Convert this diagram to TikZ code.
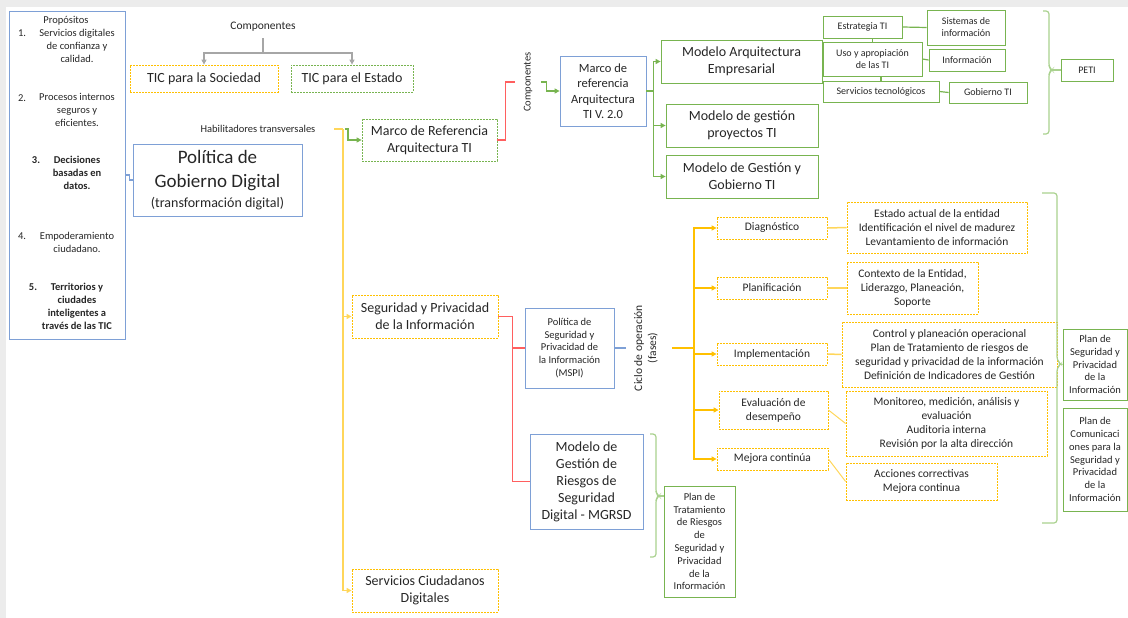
\documentclass[tikz,border=0pt]{standalone}
\usepackage{fontspec}
\setmainfont{Carlito}
\usepackage{tikz}
\usetikzlibrary{arrows.meta,positioning,calc}
\definecolor{blubox}{RGB}{126,160,214}
\definecolor{yelbox}{RGB}{255,192,0}
\definecolor{yelline}{RGB}{255,214,90}
\definecolor{grnbox}{RGB}{120,180,80}
\definecolor{grnbrc}{RGB}{169,209,142}
\definecolor{redline}{RGB}{255,95,95}
\definecolor{gryline}{RGB}{166,166,166}
\definecolor{scrgray}{RGB}{236,236,236}
\newcommand{\fsXL}{\fontsize{19}{24}\selectfont}
\newcommand{\fsL}{\fontsize{14}{17}\selectfont}
\newcommand{\fsM}{\fontsize{12.5}{15.5}\selectfont}
\newcommand{\fsS}{\fontsize{11.5}{14}\selectfont}
\newcommand{\fsXS}{\fontsize{10.5}{12.8}\selectfont}
\newcommand{\fsT}{\fontsize{10}{12}\selectfont}

\begin{document}
\begin{tikzpicture}[x=1pt,y=-1pt,>={Triangle[length=5pt,width=5pt]},
  every node/.style={text=black!85},
  box/.style={draw,line width=0.8pt,inner sep=0pt,align=center},
  bl/.style={box,draw=blubox},
  yl/.style={box,draw=yelbox,dash pattern=on 2pt off 1pt},
  gr/.style={box,draw=grnbox},
  grd/.style={box,draw=grnbox,dash pattern=on 2pt off 1pt},
  gyl/.style={draw=gryline,line width=1.2pt},
  yll/.style={draw=yelline,line width=1.5pt},
  ylp/.style={draw=yelbox,line width=1.5pt},
  grl/.style={draw=grnbox,line width=1.2pt},
  rdl/.style={draw=redline,line width=1.2pt},
  bll/.style={draw=blubox,line width=1.2pt},
  brc/.style={draw=grnbrc,line width=1.2pt,rounded corners=3pt}]
  \useasboundingbox (0,0) rectangle (1128,618);
  % screen edges
  \fill[scrgray] (0,0) rectangle (1128,7);
  \fill[scrgray] (0,0) rectangle (6,618);

  % --- propositos ---
  \node[bl,minimum width=116pt,minimum height=328pt] (prop) at (67,175) {};
  \node[font=\fsXS] (pp) at (66,21) {Propósitos};
  \node[font=\fsXS] (n1) at (22,33) {1.};
  \node[font=\fsXS,align=center] (t1) at (77,46) {Servicios digitales\\de confianza y\\calidad.};
  \node[font=\fsXS] (n2) at (22,98) {2.};
  \node[font=\fsXS,align=center] (t2) at (77,110) {Procesos internos\\seguros y\\eficientes.};
  \node[font=\fsXS\bfseries] (n3) at (36,160) {3.};
  \node[font=\fsXS\bfseries,align=center] (t3) at (77,173) {Decisiones\\basadas en\\datos.};
  \node[font=\fsXS] (n4) at (22,236) {4.};
  \node[font=\fsXS,align=center] (t4) at (77,242.5) {Empoderamiento\\ciudadano.};
  \node[font=\fsXS\bfseries] (n5) at (33,287) {5.};
  \node[font=\fsXS\bfseries,align=center] (t5) at (77,306.5) {Territorios y\\ciudades\\inteligentes a\\través de las TIC};

  % --- politica ---
  \node[bl,minimum width=169pt,minimum height=72pt,font=\fsXL] (pol) at (217.5,180) {Política de\\Gobierno Digital\\[-4pt]{\fsL (transformación digital)}};
  \draw[bll] (prop.east) -- ++(4,0) |- (pol.west);

  % --- componentes TIC ---
  \node[font=\fsS] (comp) at (263,27) {Componentes};
  \coordinate (cj) at (263,53);
  \node[yl,minimum width=148pt,minimum height=27pt,font=\fsL] (ticsoc) at (204,78.5) {TIC para la Sociedad};
  \node[grd,minimum width=122pt,minimum height=27pt,font=\fsL] (ticest) at (352,78.5) {TIC para el Estado};
  \draw[gyl] (comp.south) ++(0,3) -- (cj);
  \draw[gyl,->] (cj) -| (ticsoc.north);
  \draw[gyl,->] (cj) -| (ticest.north);

  % --- habilitadores ---
  \node[font=\fsXS] (hab) at (258,129) {Habilitadores transversales};
  \coordinate (yst) at (334,129);
  \coordinate (yj) at (343,129);
  \node[grd,minimum width=135pt,minimum height=42pt,font=\fsL] (mrat) at (429.5,140) {Marco de Referencia\\Arquitectura TI};
  \node[yl,minimum width=146pt,minimum height=43pt,font=\fsL] (segpriv) at (425,316.5) {Seguridad y Privacidad\\de la Información};
  \node[yl,minimum width=146pt,minimum height=43pt,font=\fsL] (servciu) at (425,590.5) {Servicios Ciudadanos\\Digitales};
  \draw[yll] (yst) -- (yj);
  \draw[yll,->] (yj) |- (segpriv.west);
  \draw[yll,->] (yj) |- (servciu.west);
  \draw[grl,->] (yj) ++(2,0) -- ++(3,0) |- (mrat.west);

  % --- arquitectura TI ---
  \node[rotate=90,font=\fsXS,inner sep=9pt] (comp2) at (528,82) {Componentes};
  \node[bl,minimum width=86pt,minimum height=70pt,font=\fsM] (mr20) at (603,91) {Marco de\\referencia\\Arquitectura\\TI V. 2.0};
  \draw[rdl] (mrat.east) -- ++(8,0) |- (comp2.north);
  \draw[grl,->] (comp2.south) -- ++(5,0) |- (mr20.west);
  \node[gr,minimum width=161pt,minimum height=43pt,font=\fsL] (mae) at (741.5,61.5) {Modelo Arquitectura\\Empresarial};
  \node[gr,minimum width=152pt,minimum height=43pt,font=\fsL] (mgp) at (742,125.5) {Modelo de gestión\\proyectos TI};
  \node[gr,minimum width=152pt,minimum height=43pt,font=\fsL] (mggt) at (742,176.5) {Modelo de Gestión y\\Gobierno TI};
  \draw[grl,->] (mr20.east) -- ++(7,0) coordinate (vj) |- (mae.west);
  \draw[grl,->] (vj) |- (mgp.west);
  \draw[grl,->] (vj) |- (mggt.west);

  % dominios
  \node[gr,minimum width=79pt,minimum height=22pt,font=\fsT] (estr) at (862.5,27) {Estrategia TI};
  \node[gr,minimum width=99pt,minimum height=34pt,font=\fsT] (uso) at (872.5,59) {Uso y apropiación\\de las TI};
  \node[gr,minimum width=116pt,minimum height=21pt,font=\fsT] (serv) at (881,91.5) {Servicios tecnológicos};
  \node[gr,minimum width=78pt,minimum height=35pt,font=\fsT] (sist) at (966,27.5) {Sistemas de\\información};
  \node[gr,minimum width=76pt,minimum height=22pt,font=\fsT] (info) at (967,60) {Información};
  \node[gr,minimum width=78pt,minimum height=21pt,font=\fsT] (gob) at (988,92.5) {Gobierno TI};
  \draw[grl] (mae.east) -- (uso.west |- mae.east);
  \draw[grl] (uso.north) -- (uso.north |- estr.south);
  \draw[grl] (serv.north) -- (serv.north |- uso.south);
  \draw[grl] (estr.east) -- (sist.west);
  \draw[grl] (uso.east) -- (info.west);
  \draw[grl] (serv.east) -- (gob.west);

  % PETI
  \node[gr,minimum width=52pt,minimum height=22pt,font=\fsT] (peti) at (1087,70) {PETI};
  \draw[brc] (1043,11) -- (1049,11) -- (1049,67) -- (1052,70) -- (1049,73) -- (1049,134) -- (1043,134);
  \coordinate (bt1) at (1052,70);
  \draw[brc] (bt1) -- (peti.west);

  % --- seguridad y privacidad ---
  \node[bl,minimum width=89pt,minimum height=80pt,font=\fsXS] (mspi) at (569.5,348) {Política de\\Seguridad y\\Privacidad de\\la Información\\(MSPI)};
  \node[bl,minimum width=113pt,minimum height=95pt,font=\fsL] (mgrsd) at (586.5,481.5) {Modelo de\\Gestión de\\Riesgos de\\Seguridad\\Digital - MGRSD};
  \draw[rdl] (segpriv.east) -- ++(14,0) coordinate (rj) |- (mspi.west);
  \draw[rdl] (rj) |- (mgrsd.west);
  \draw[bll] (mspi.east) -- ++(12,0) coordinate (bend);

  % ciclo de operacion
  \node[rotate=90,font=\fsS,align=center] (ciclo) at (646,348) {Ciclo de operación\\(fases)};
  \coordinate (ys) at (672,348);
  \coordinate (pj) at (694,348);
  \node[yl,minimum width=110pt,minimum height=22pt,font=\fsS] (diag) at (772,228) {Diagnóstico};
  \node[yl,minimum width=110pt,minimum height=22pt,font=\fsS] (plan) at (772,288) {Planificación};
  \node[yl,minimum width=110pt,minimum height=22pt,font=\fsS] (impl) at (772,354) {Implementación};
  \node[yl,minimum width=109pt,minimum height=38pt,font=\fsS] (eval) at (773.5,410) {Evaluación de\\desempeño};
  \node[yl,minimum width=111pt,minimum height=22pt,font=\fsS] (mej) at (772.5,459) {Mejora continúa};
  \draw[ylp] (ys) -- (pj);
  \foreach \f in {diag,plan,impl,eval,mej}
    \draw[ylp,->] (pj) |- (\f.west);

  % detalle de fases
  \node[yl,minimum width=180pt,minimum height=51pt,font=\fsS] (d1) at (937,227.5) {Estado actual de la entidad\\Identificación el nivel de madurez\\Levantamiento de información};
  \node[yl,minimum width=131pt,minimum height=52pt,font=\fsS] (d2) at (912.5,288) {Contexto de la Entidad,\\Liderazgo, Planeación,\\Soporte};
  \node[yl,minimum width=215pt,minimum height=65pt,font=\fsS] (d3) at (949.5,354.5) {Control y planeación operacional\\Plan de Tratamiento de riesgos de\\seguridad y privacidad de la información\\Definición de Indicadores de Gestión};
  \node[yl,minimum width=201pt,minimum height=65pt,font=\fsS] (d4) at (946.5,423.5) {Monitoreo, medición, análisis y\\evaluación\\Auditoria interna\\Revisión por la alta dirección};
  \node[yl,minimum width=151pt,minimum height=37pt,font=\fsS] (d5) at (921.5,481.5) {Acciones correctivas\\Mejora continua};
  \draw[yll] (diag.east) -- (d1.west);
  \draw[yll] (plan.east) -- (d2.west);
  \draw[yll] (impl.east) -- (d3.west);
  \draw[yll,line width=1pt] (eval.east) -- (d4.west);
  \draw[yll,line width=1pt] (mej.east) -- (d5.west);

  % planes
  \node[gr,minimum width=71pt,minimum height=111pt,font=\fsXS] (ptrat) at (699.5,541.5) {Plan de\\Tratamiento\\de Riesgos\\de\\Seguridad y\\Privacidad\\de la\\Información};
  \draw[brc] (650,434) -- (656,434) -- (656,493) -- (659,496) -- (656,499) -- (656,557) -- (650,557);
  \coordinate (bt2) at (659,496);
  \draw[brc] (bt2) -- (bt2 -| ptrat.west);
  \node[gr,minimum width=64pt,minimum height=71pt,font=\fsXS] (psp) at (1095,364.5) {Plan de\\Seguridad y\\Privacidad\\de la\\Información};
  \node[gr,minimum width=64pt,minimum height=103pt,font=\fsXS] (pcom) at (1095,459.5) {Plan de\\Comunicaci\\ones para la\\Seguridad y\\Privacidad\\de la\\Información};
  \draw[brc] (1042,193) -- (1057,193) -- (1057,360) -- (1061,364) -- (1057,368) -- (1057,523) -- (1042,523);
  \coordinate (bt3) at (1061,364);
  \draw[brc] (bt3) -- (psp.west);
\end{tikzpicture}
\end{document}
